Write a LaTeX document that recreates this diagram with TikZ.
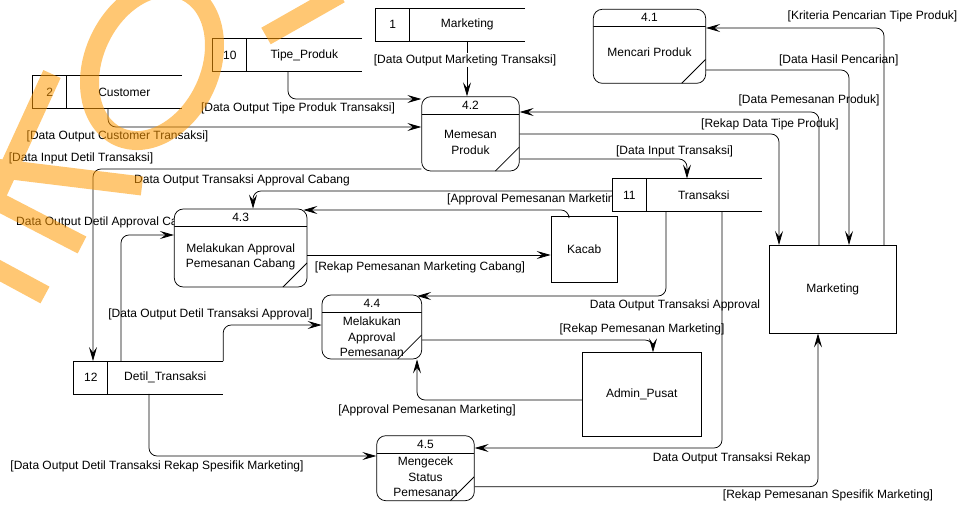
\documentclass[tikz,border=0pt]{standalone}
\usepackage{fontspec}
\setmainfont{Liberation Sans}
\usetikzlibrary{arrows.meta}
\pgfdeclarelayer{under}
\pgfsetlayers{under,main}

% data store: open box with a number cell
\newcommand\storenode[5]{%
  \node[store] (#1) at (#2,#3) {};
  \draw[ln] (#1.north east) -- (#1.north west) -- (#1.south west) -- (#1.south east);
  \draw[ln] ([xshift=34pt]#1.north west) -- ([xshift=34pt]#1.south west);
  \node[txt] at ([xshift=17pt]#1.west) {#4};
  \node[txt] at ([xshift=91.5pt]#1.west) {#5};
}
% process: rounded box with number header
\newcommand\procnode[8]{%
  \node[proc, minimum width=#4pt, minimum height=#5pt] (#1) at (#2,#3) {};
  \node[txt] at ([yshift=-8.8pt]#1.north) {#6};
  \node[txt, align=center] at (#1.center |- 0,#8) {#7};
}

\begin{document}
\begin{tikzpicture}[x=1pt,y=-1pt,
  ln/.style={line width=0.75pt, draw=black},
  txt/.style={inner sep=0pt, font=\fontsize{12}{15.6}\selectfont},
  lbl/.style={inner sep=1pt, font=\fontsize{12}{15.6}\selectfont},
  flow/.style={ln, rounded corners=8pt, -{Stealth[length=14pt,width=8pt,inset=5.5pt]}},
  store/.style={fill=white, inner sep=0pt, minimum width=149pt, minimum height=32.5pt},
  entity/.style={ln, fill=white, inner sep=0pt, font=\fontsize{12}{15.6}\selectfont},
  proc/.style={ln, fill=white, rounded corners=9pt, inner sep=0pt,
    path picture={
      \draw[line width=0.75pt] ([yshift=-17.5pt]path picture bounding box.north west) -- ([yshift=-17.5pt]path picture bounding box.north east);
      \draw[line width=0.75pt] ([xshift=-24pt]path picture bounding box.south east) -- ([yshift=24pt]path picture bounding box.south east);}},
  wm/.style={draw=orange!80!yellow, line width=19pt},
  wmband/.style={draw=orange!80!yellow, line width=19pt, line cap=butt}
]
\useasboundingbox (0,0) rectangle (964,506);

% ---------- data stores ----------
\storenode{s1}{450.5}{24.5}{1}{Marketing}
\storenode{s10}{287.5}{55}{10}{Tipe\_Produk}
\storenode{s2}{107.5}{92}{2}{Customer}
\storenode{s11}{687}{195}{11}{Transaksi}
\storenode{s12}{148.5}{377.5}{12}{Detil\_Transaksi}

% ---------- processes ----------
\procnode{p41}{649.5}{46.3}{112.4}{74}{4.1}{Mencari Produk}{52}
\procnode{p42}{470.5}{133.85}{97.6}{74.3}{4.2}{Memesan\\Produk}{142.5}
\procnode{p43}{240.65}{248}{132.7}{78}{4.3}{Melakukan Approval\\Pemesanan Cabang}{257}
\procnode{p44}{371.85}{327}{99.7}{64}{4.4}{Melakukan\\Approval\\Pemesanan}{337}
\procnode{p45}{425.5}{468.2}{97.6}{65}{4.5}{Mengecek\\Status\\Pemesanan}{476.8}

% ---------- external entities ----------
\node[entity, minimum width=66.3pt, minimum height=66.3pt] (kacab) at (584.2,249.2) {Kacab};
\node[entity, minimum width=127pt, minimum height=87.7pt] (mk) at (832.8,289.2) {Marketing};
\node[entity, minimum width=118.7pt, minimum height=84pt] (adm) at (641.7,394.7) {Admin\_Pusat};

% ---------- labels partly covered by boxes ----------
\begin{pgfonlayer}{under}
  \node[lbl, anchor=west] at (446,199) {[Approval Pemesanan Marketing]};
  \node[lbl, anchor=west] at (15,222.7) {Data Output Detil Approval Cabang};
\end{pgfonlayer}

% ---------- flows ----------
\draw[flow] (s1.south -| 467,0) -- (p42.north -| 467,0);
\node[lbl, fill=white] at (465,60) {[Data Output Marketing Transaksi]};

\draw[flow] (s10.south -| 288,0) |- (p42.west |- 0,99);
\node[lbl] at (298,108) {[Data Output Tipe Produk Transaksi]};

\draw[flow] (s2.south -| 108,0) |- (p42.west |- 0,127);
\node[lbl] at (117.5,136) {[Data Output Customer Transaksi]};

\draw[flow] (p42.west |- 0,169) -| (s12.north -| 93,0);
\node[lbl] at (81,158) {[Data Input Detil Transaksi]};

\draw[flow] (p42.east |- 0,159) -| (s11.north -| 687,0);
\node[lbl] at (674.6,151.5) {[Data Input Transaksi]};

\draw[flow] (p42.east |- 0,134) -| (mk.north -| 779,0);
\node[lbl] at (770,124.7) {[Rekap Data Tipe Produk]};

\draw[flow] (mk.north -| 819,0) |- (p42.east |- 0,112);
\node[lbl] at (809,100) {[Data Pemesanan Produk]};

\draw[flow] (p41.east |- 0,70) -| (mk.north -| 849,0);
\node[lbl] at (838.7,60) {[Data Hasil Pencarian]};

\draw[flow] (mk.north -| 884,0) |- (p41.east |- 0,28);
\node[lbl] at (872.5,16) {[Kriteria Pencarian Tipe Produk]};

\draw[flow] (s11.west |- 0,191) -| (p43.north -| 253,0);
\node[lbl] at (242,180.7) {Data Output Transaksi Approval Cabang};

\draw[flow] (kacab.north -| 569,0) |- ([xshift=-4pt]p43.east |- 0,210);

\draw[flow] (p43.east |- 0,255) -- (kacab.west |- 0,255);
\node[lbl] at (420,267.3) {[Rekap Pemesanan Marketing Cabang]};

\draw[flow] (s11.south -| 666,0) |- ([xshift=-5pt]p44.east |- 0,296);
\node[lbl] at (675,305) {Data Output Transaksi Approval};

\draw[flow] (s12.north -| 121,0) |- (p43.west |- 0,235);

\draw[flow] (s12.north east) |- (p44.west |- 0,325);
\node[lbl] at (210.5,314) {[Data Output Detil Transaksi Approval]};

\draw[flow] (p44.east |- 0,340) -| (adm.north -| 653,0);
\node[lbl] at (642,329) {[Rekap Pemesanan Marketing]};

\draw[flow] (adm.west |- 0,400) -| (p44.south -| 417,0);
\node[lbl] at (427,410) {[Approval Pemesanan Marketing]};

\draw[flow] (s11.south -| 722,0) |- (p45.east |- 0,448);
\node[lbl] at (731.7,458.3) {Data Output Transaksi Rekap};

\draw[flow] (s12.south -| 149,0) |- (p45.west |- 0,456);
\node[lbl] at (157,466.7) {[Data Output Detil Transaksi Rekap Spesifik Marketing]};

\draw[flow] (p45.east |- 0,486.7) -| (mk.south -| 818,0);
\node[lbl] at (828,495.7) {[Rekap Pemesanan Spesifik Marketing]};

% ---------- watermark strokes ----------
\begin{scope}[opacity=0.55, transparency group]
  \draw[wm] (152,64) ellipse [x radius=80, y radius=58, rotate=65];
  \draw[wmband] (52,74) -- (-8,205);
  \draw[wmband] (-5,168) -- (142,186);
  \draw[wmband] (-5,200) -- (82,245);
  \draw[wmband] (-5,268) -- (45,295);
  \draw[wmband] (340,-6) -- (266,36);
\end{scope}
\end{tikzpicture}
\end{document}
